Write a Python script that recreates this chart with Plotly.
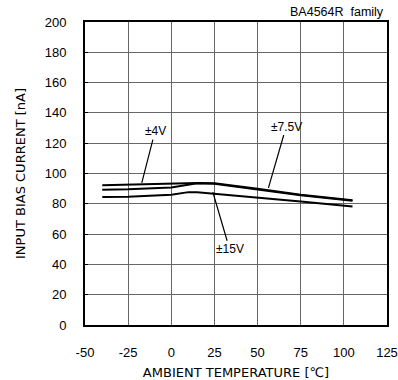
import plotly.graph_objects as go

temps = [-40, -25, 0, 10, 15, 25, 50, 75, 105]
v4 = [92.3, 92.6, 93.5, 93.8, 93.8, 93.5, 90.0, 86.0, 82.3]
v75 = [89.3, 89.6, 90.8, 92.8, 93.5, 93.3, 89.7, 85.7, 82.0]
v15 = [84.5, 84.7, 86.0, 87.7, 87.7, 86.7, 84.5, 81.6, 78.3]

x_ticks = [-50, -25, 0, 25, 50, 75, 100, 125]
y_ticks = [0, 20, 40, 60, 80, 100, 120, 140, 160, 180, 200]

FONT = "Liberation Sans, Arial, sans-serif"
TFONT = "DejaVu Sans, sans-serif"

fig = go.Figure()
for vals in (v4, v75, v15):
    fig.add_trace(go.Scatter(x=temps, y=vals, mode="lines",
                             line=dict(color="black", width=2),
                             showlegend=False, hoverinfo="skip"))

# labels with leader lines: (text, label x, label y, point x, point y)
labels = [
    ("±4V", -9.4, 128, -17.1, 93.8),
    ("±7.5V", 66.6, 131, 56.3, 90.5),
    ("±15V", 33.8, 50, 24.1, 87.6),
]
for text, lx, ly, px, py in labels:
    fig.add_annotation(x=px, y=py, ax=lx, ay=ly, axref="x", ayref="y",
                       xref="x", yref="y", text=text, showarrow=True,
                       arrowhead=0, arrowwidth=1.2, arrowcolor="black",
                       standoff=0, startstandoff=0,
                       font=dict(family=FONT, size=12, color="black"))

fig.add_annotation(x=1.0, y=1.0, xref="paper", yref="paper", xanchor="right",
                   yanchor="bottom", text="BA4564R  family", showarrow=False,
                   font=dict(family=FONT, size=12.5, color="black"),
                   xshift=-1, yshift=1)

fig.update_xaxes(range=[-50, 125], tickvals=x_ticks, ticktext=[str(t) for t in x_ticks],
                 showgrid=True, gridcolor="#666", gridwidth=1,
                 showline=True, linecolor="black", linewidth=2, mirror=True,
                 zeroline=False, ticks="", ticklabelstandoff=14,
                 ticklabeloverflow="allow",
                 tickfont=dict(family=FONT, size=13, color="black"),
                 title=dict(text="AMBIENT TEMPERATURE [℃]", standoff=9,
                            font=dict(family=TFONT, size=13, color="black")))
fig.update_yaxes(range=[0, 200], tickvals=y_ticks, ticktext=[str(t) for t in y_ticks],
                 showgrid=True, gridcolor="#666", gridwidth=1,
                 showline=True, linecolor="black", linewidth=2, mirror=True,
                 zeroline=False, ticks="inside", ticklen=3, tickcolor="black",
                 ticklabelstandoff=14, ticklabeloverflow="allow",
                 tickfont=dict(family=FONT, size=13, color="black"),
                 title=dict(text="INPUT BIAS CURRENT [nA]", standoff=16,
                            font=dict(family=TFONT, size=13, color="black")))

fig.update_layout(width=398, height=380, plot_bgcolor="white", paper_bgcolor="white",
                  margin=dict(l=85, r=11, t=22, b=55, autoexpand=False),
                  font=dict(family=FONT, color="black"))

fig.write_html("out.html", config={"displayModeBar": False},
               post_script="document.body.style.margin='0';document.body.style.overflow='hidden';")
